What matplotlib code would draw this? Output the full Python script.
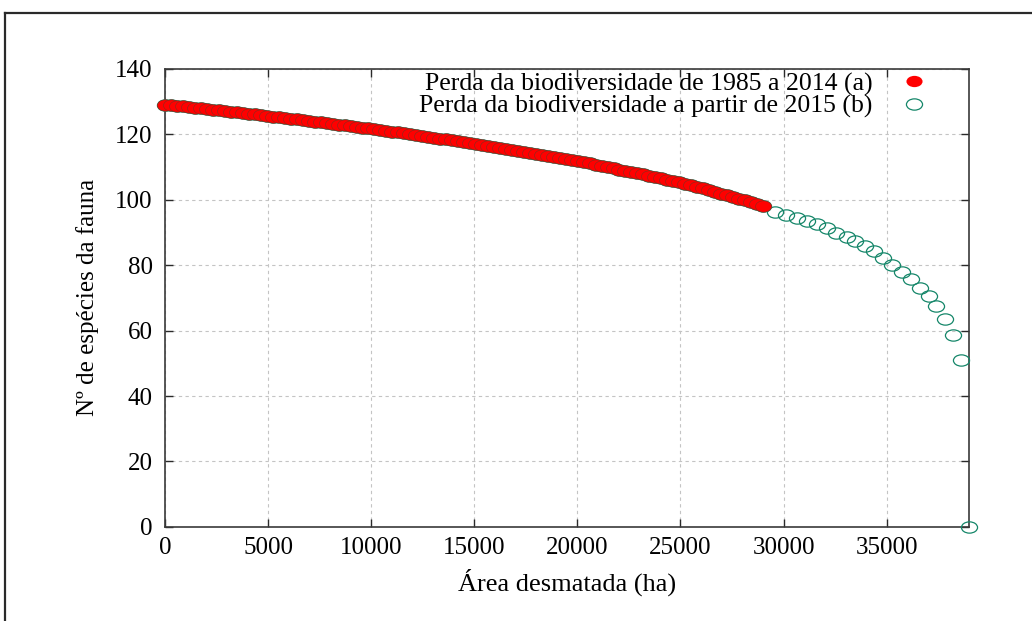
import matplotlib
matplotlib.use('Agg')
import matplotlib.pyplot as plt
from matplotlib.path import Path
from matplotlib.lines import Line2D
from matplotlib.transforms import Affine2D

# ---- data ----
red_x = [0, 290, 580, 870, 1160, 1450, 1740, 2030, 2320, 2610, 2900, 3190, 3480, 3770, 4060,
         4350, 4640, 4930, 5220, 5510, 5800, 6090, 6380, 6670, 6960, 7250, 7540, 7830, 8120,
         8410, 8700, 8990, 9280, 9570, 9860, 10150, 10440, 10730, 11020, 11310, 11600, 11890,
         12180, 12470, 12760, 13050, 13340, 13630, 13920, 14210, 14500, 14790, 15080, 15370,
         15660, 15950, 16240, 16530, 16820, 17110, 17400, 17690, 17980, 18270, 18560, 18850,
         19140, 19430, 19720, 20010, 20300, 20590, 20880, 21170, 21460, 21750, 22040, 22330,
         22620, 22910, 23200, 23490, 23780, 24070, 24360, 24650, 24940, 25230, 25520, 25810,
         26100, 26390, 26680, 26970, 27260, 27550, 27840, 28130, 28420, 28710, 29000]
red_y = [129.0, 128.8, 128.6, 128.4, 128.2, 128.0, 127.8, 127.6, 127.4, 127.2, 127.0,
         126.8, 126.6, 126.4, 126.2, 126.0, 125.8, 125.5, 125.3, 125.1, 124.9,
         124.7, 124.5, 124.2, 124.0, 123.8, 123.6, 123.3, 123.1, 122.9, 122.6,
         122.4, 122.2, 121.9, 121.7, 121.4, 121.2, 120.9, 120.7, 120.5, 120.2,
         119.9, 119.7, 119.4, 119.1, 118.9, 118.6, 118.4, 118.1, 117.8, 117.5,
         117.3, 117.0, 116.7, 116.4, 116.1, 115.8, 115.5, 115.2, 114.9, 114.6,
         114.3, 114.0, 113.6, 113.3, 113.0, 112.7, 112.3, 112.0, 111.7, 111.4,
         111.0, 110.6, 110.3, 109.9, 109.5, 109.1, 108.8, 108.4, 108.0, 107.7,
         107.3, 106.9, 106.5, 106.0, 105.6, 105.2, 104.7, 104.3, 103.9, 103.4,
         102.8, 102.3, 101.8, 101.3, 100.8, 100.3, 99.7, 99.1, 98.5, 97.9]
tail_x = [29600, 30130, 30650, 31140, 31620, 32110, 32560, 33080, 33480, 33970, 34370,
          34830, 35260, 35750, 36200, 36640, 37040, 37410, 37820, 38220, 38620, 39000]
tail_y = [96.3, 95.3, 94.4, 93.5, 92.5, 91.2, 89.9, 88.4, 87.2, 85.7, 84.2,
          82.2, 80.1, 77.9, 75.6, 73.1, 70.5, 67.4, 63.6, 58.6, 51.0, 0.0]

x_ticks = [0, 5000, 10000, 15000, 20000, 25000, 30000, 35000]
y_ticks = [0, 20, 40, 60, 80, 100, 120, 140]
label_a = 'Perda da biodiversidade de 1985 a 2014 (a)'
label_b = 'Perda da biodiversidade a partir de 2015 (b)'
x_label = 'Área desmatada (ha)'
y_label = 'Nº de espécies da fauna'

# series (b) covers the whole range; (a) overlays its first part
green_x = red_x + tail_x
green_y = red_y + tail_y

plt.rcParams['font.family'] = ['Liberation Serif', 'DejaVu Serif']

fig = plt.figure(figsize=(10.32, 6.21), dpi=100)
ax = fig.add_axes([0.16017, 0.15137, 0.77878, 0.73832])

ellipse = Path.unit_circle().transformed(Affine2D().scale(1.0, 0.70))

ax.plot(green_x, green_y, ls='none', marker=ellipse, ms=11.6, mfc='none',
        mec='#16876a', mew=0.9, label=label_b, zorder=3, clip_on=False)
ax.plot(red_x, red_y, ls='none', marker=ellipse, ms=11.6, mfc='#ff0000',
        mec='#8e2a1c', mew=0.45, label=label_a, zorder=4, clip_on=False)

ax.set_xlim(0, 39000)
ax.set_ylim(0, 140)
ax.set_xticks(x_ticks)
ax.set_yticks(y_ticks)
ax.set_xticklabels([str(v) for v in x_ticks])
ax.set_yticklabels([str(v) for v in y_ticks])

ax.grid(True, color='#c4c4c4', lw=0.8, ls=(0, (3, 3)))
ax.set_axisbelow(True)

for s in ax.spines.values():
    s.set_color('#3a3a3a')
    s.set_linewidth(1.2)

ax.tick_params(axis='both', direction='in', length=6, width=1.0, color='#2a2a2a',
               top=True, right=True, labelsize=18, labelcolor='black')
ax.tick_params(axis='x', pad=7)
ax.tick_params(axis='y', pad=9)

ax.set_xlabel(x_label, fontsize=19, va='center', ha='center')
ax.xaxis.set_label_coords(0.5, -0.120)
ax.set_ylabel(y_label, fontsize=18, va='center', ha='center')
ax.yaxis.set_label_coords(-0.0962, 0.5)

handles, labels = ax.get_legend_handles_labels()
order = [labels.index(label_a), labels.index(label_b)]
leg = ax.legend([handles[i] for i in order], [labels[i] for i in order],
                loc='upper right', bbox_to_anchor=(0.9476, 0.9915), frameon=False,
                markerfirst=False, fontsize=18.5, numpoints=1, handlelength=1.0,
                handletextpad=1.13, labelspacing=-0.05, borderaxespad=0, borderpad=0)
for h in leg.legend_handles:
    if h.get_markerfacecolor() not in ('none',):
        pass
leg.legend_handles[0].set_markeredgecolor('none')

# outer figure frame (top and left edges visible)
fig.add_artist(Line2D([0.0048, 1.0], [0.979, 0.979], transform=fig.transFigure,
                      color='#2a2a2a', lw=1.6))
fig.add_artist(Line2D([0.0048, 0.0048], [0.0, 0.979], transform=fig.transFigure,
                      color='#2a2a2a', lw=1.6))

fig.savefig('out.png', dpi=100, facecolor='white')
